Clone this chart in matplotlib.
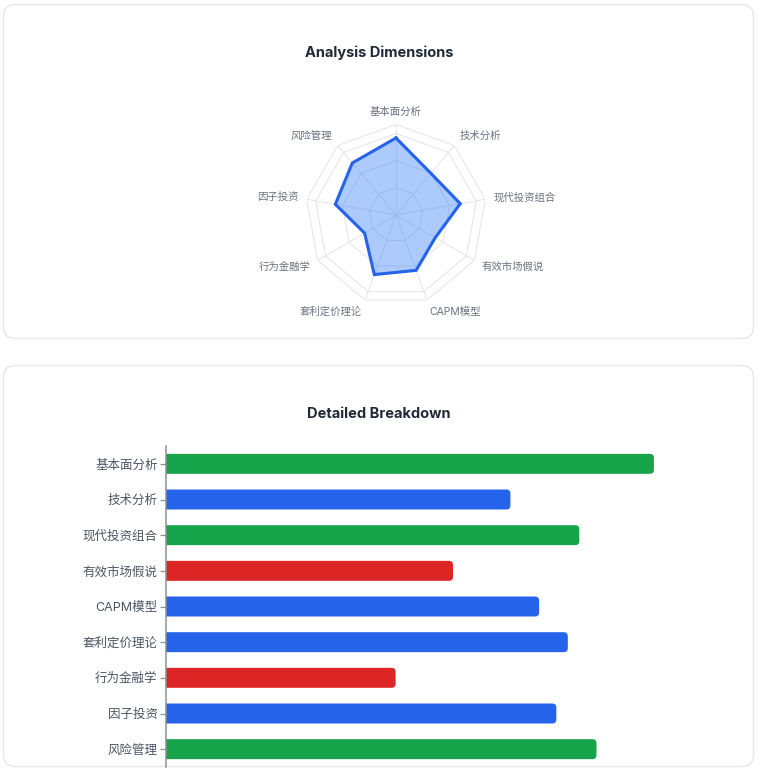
import numpy as np
import matplotlib
matplotlib.use("Agg")
import matplotlib.pyplot as plt
from matplotlib.patches import FancyBboxPatch

plt.rcParams["font.family"] = ["Inter", "Noto Sans CJK SC", "DejaVu Sans"]

# ---- data ----
categories = ["基本面分析", "技术分析", "现代投资组合", "有效市场假说", "CAPM模型",
              "套利定价理论", "行为金融学", "因子投资", "风险管理"]
scores = [85, 60, 72, 50, 65, 70, 40, 68, 75]
ring_levels = [30, 60, 90, 100]
score_max = 100

# ---- figure geometry (pixels) ----
W, H = 761, 771
fig = plt.figure(figsize=(W / 100, H / 100), dpi=100)
fig.patch.set_facecolor("white")

bg = fig.add_axes([0, 0, 1, 1])
bg.set_xlim(0, W)
bg.set_ylim(H, 0)
bg.axis("off")

# cards
for (x0, y0, x1, y1) in [(3.5, 4.5, 753.5, 338.5), (3.5, 365.5, 753.5, 766.5)]:
    bg.add_patch(FancyBboxPatch((x0, y0), x1 - x0, y1 - y0,
                                boxstyle="round,pad=0,rounding_size=12",
                                fc="white", ec="#e5e7eb", lw=1.0))

bg.text(379, 53, "Analysis Dimensions", ha="center", va="center",
        fontsize=10.5, fontweight="bold", color="#1f2937")
bg.text(379, 414, "Detailed Breakdown", ha="center", va="center",
        fontsize=10.5, fontweight="bold", color="#1f2937")

# ---- radar ----
cx, cy, R = 396, 215, 90.6
rax = fig.add_axes([(cx - R) / W, 1 - (cy + R) / H, 2 * R / W, 2 * R / H],
                   projection="polar")
rax.set_theta_zero_location("N")
rax.set_theta_direction(-1)
rax.set_ylim(0, score_max)
rax.axis("off")

n = len(categories)
theta = np.linspace(0, 2 * np.pi, n, endpoint=False)
theta_c = np.append(theta, theta[0])

grid_c = "#e5e7eb"
for lvl in ring_levels:
    rax.plot(theta_c, [lvl] * (n + 1), color=grid_c, lw=0.8, zorder=1)
for t in theta:
    rax.plot([t, t], [0, score_max], color=grid_c, lw=0.8, zorder=1)

vals_c = scores + scores[:1]
rax.fill(theta_c, vals_c, color="#3b82f6", alpha=0.42, lw=0, zorder=2)
rax.plot(theta_c, vals_c, color="#2563eb", lw=2.2, zorder=3,
         solid_joinstyle="miter")

for t, lab in zip(theta, categories):
    s, c = np.sin(t), np.cos(t)
    ha = "center" if abs(s) < 0.1 else ("left" if s > 0 else "right")
    rax.annotate(lab, xy=(t, score_max), xytext=(6 * s, 9 * c),
                 textcoords="offset points", ha=ha, va="center",
                 fontsize=7.5, color="#6b7280", annotation_clip=False)

# ---- horizontal bars ----
def bar_color(v):
    if v > 70:
        return "#16a34a"
    if v <= 50:
        return "#dc2626"
    return "#2563eb"

bl, br, bt, bb = 166, 740, 446, 767
bax = fig.add_axes([bl / W, 1 - bb / H, (br - bl) / W, (bb - bt) / H])
bax.set_facecolor("none")
bax.set_xlim(0, score_max)
bax.set_ylim(n - 0.5, -0.5)

bar_h = 0.56
px_x = (br - bl) / score_max
px_y = (bb - bt) / n
rs = 4 / px_x
for i, v in enumerate(scores):
    # start left of zero so the axes clip gives square corners at the axis
    bax.add_patch(FancyBboxPatch((-2 * rs, i - bar_h / 2), v + 2 * rs, bar_h,
                                 boxstyle=f"round,pad=0,rounding_size={rs}",
                                 mutation_aspect=px_x / px_y,
                                 fc=bar_color(v), ec="none"))

bax.set_yticks(range(n))
bax.set_yticklabels(categories, fontsize=9, color="#4b5563")
bax.tick_params(axis="y", length=4, width=0.9, color="#8b8f96", pad=2)
bax.xaxis.set_visible(False)
for side in ["top", "right", "bottom"]:
    bax.spines[side].set_visible(False)
bax.spines["left"].set_color("#8b8f96")
bax.spines["left"].set_linewidth(1.1)

fig.savefig("out.png", dpi=100, facecolor="white")
